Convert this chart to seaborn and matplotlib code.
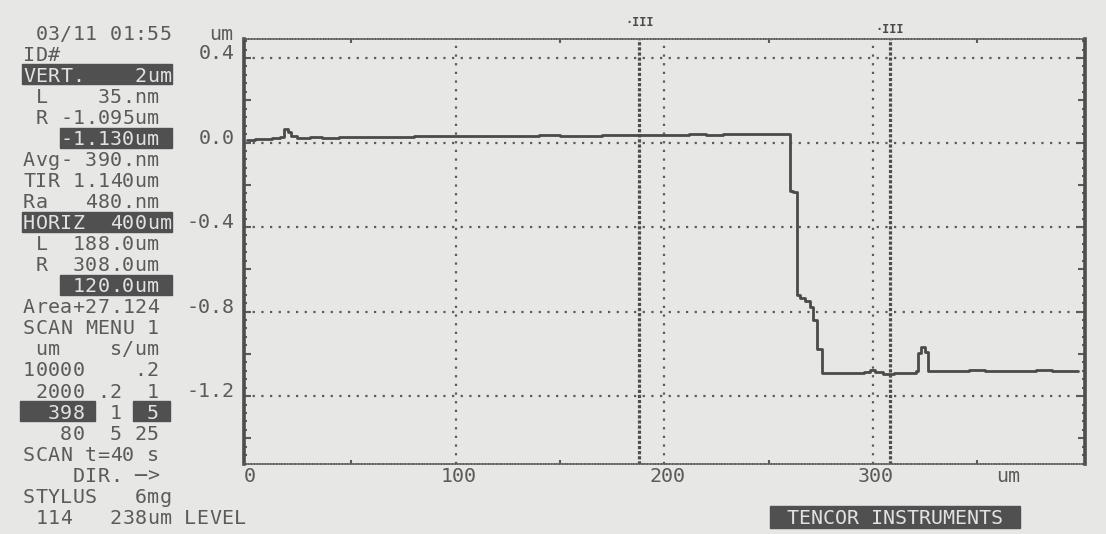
####################     importations     ####################
import numpy as np
import pandas as pd
import matplotlib
matplotlib.use('Agg')
import seaborn as sns
import matplotlib.pyplot as plt
from matplotlib.patches import Rectangle
from matplotlib.ticker import MultipleLocator, FixedLocator


####################        donnees         ####################

# profil mesure (um, um)
profile_x = [0, 4, 8, 12, 16, 17.5, 19.5, 21, 24, 30, 36, 44, 52, 60, 70, 80,
             90, 98, 110, 120, 130, 140, 150, 160, 170, 180, 188, 196, 204,
             212, 220, 228, 236, 244, 252, 260.3, 261.7, 263.7, 265.1, 267.5,
             269.9, 271.3, 273.2, 275.5, 282, 290, 296, 298.5, 301, 305, 310,
             316, 320.5, 321.5, 323.2, 324.8, 326.3, 330, 338, 346, 354, 362,
             370, 378, 386, 394, 398.5]
profile_y = [0.012, 0.015, 0.018, 0.022, 0.025, 0.063, 0.048, 0.030, 0.022,
             0.025, 0.023, 0.027, 0.027, 0.026, 0.028, 0.030, 0.030, 0.033,
             0.032, 0.031, 0.033, 0.034, 0.032, 0.033, 0.034, 0.036, 0.035,
             0.034, 0.036, 0.038, 0.037, 0.039, 0.040, 0.038, 0.040, -0.228,
             -0.235, -0.720, -0.735, -0.750, -0.780, -0.840, -0.975, -1.092,
             -1.093, -1.090, -1.088, -1.075, -1.085, -1.095, -1.092, -1.090,
             -1.080, -0.995, -0.968, -0.990, -1.080, -1.081, -1.083, -1.079,
             -1.082, -1.080, -1.083, -1.078, -1.081, -1.082, -1.082]

y_grid = [0.4, 0.0, -0.4, -0.8, -1.2]
x_grid = [100, 200, 300]
x_labels = [0, 100, 200, 300]
x_small_ticks = [50, 150, 250, 350]
cursors = [188, 308]

# panneau de gauche (une chaine par ligne, police a chasse fixe)
panel_lines = [
    " 03/11 01:55",
    "ID#",
    "VERT.    2um",
    " L    35.nm",
    " R -1.095um",
    "   -1.130um",
    "Avg- 390.nm",
    "TIR 1.140um",
    "Ra   480.nm",
    "HORIZ  400um",
    " L  188.0um",
    " R  308.0um",
    "    120.0um",
    "Area+27.124",
    "SCAN MENU 1",
    " um    s/um",
    "10000    .2",
    " 2000 .2  1",
    "  398  1  5",
    "   80  5 25",
    "SCAN t=40 s",
    "    DIR. \u2500>",
    "STYLUS   6mg",
    " 114   238um LEVEL",
]
# cases en video inverse : (ligne, x gauche px, x droite px)
inverse_boxes = [(2, 22, 172), (5, 60, 172), (9, 22, 172), (12, 60, 172),
                 (18, 20, 95), (18, 133, 170)]


####################        figure          ####################
W, H = 1106, 534
papier = '#e7e7e5'
encre = '#5b5b5b'
clair = '#e2e2e2'
fs = 14.4

sns.set_theme(style='white', rc={'axes.facecolor': papier,
                                 'figure.facecolor': papier,
                                 'savefig.facecolor': papier})
plt.rcParams['font.family'] = ['DejaVu Sans Mono', 'DejaVu Sans']


def px(x, y):
    # pixels (haut gauche) -> fraction de figure
    return x / W, 1 - y / H


fig = plt.figure(figsize=(W / 100, H / 100), dpi=100)
ax_l, ax_r, ax_t, ax_b = 244, 1085, 39, 464.3
ax = fig.add_axes([ax_l / W, 1 - ax_b / H, (ax_r - ax_l) / W, (ax_b - ax_t) / H])

# grille pointillee
for v in y_grid:
    ax.axhline(v, color=encre, lw=1.6, ls=(0, (1, 2.9)), zorder=1)
for v in x_grid:
    ax.axvline(v, color=encre, lw=1.6, ls=(0, (1, 2.9)), zorder=1)
for c in cursors:
    ax.axvline(c, color='#4e4e4e', lw=2.3, ls=(0, (1, 0.6)), zorder=1)

# courbe
df = pd.DataFrame({'x': profile_x, 'y': profile_y})
sns.lineplot(data=df, x='x', y='y', ax=ax, color='#4a4a4a', lw=2.0,
             drawstyle='steps-post', estimator=None, sort=False, zorder=3)

ax.set_xlim(-1.44, 401.7)
ax.set_ylim(-1.523, 0.490)
ax.set_xlabel('')
ax.set_ylabel('')

# bords
for s in ['left', 'right']:
    ax.spines[s].set_color('#4e4e4e')
    ax.spines[s].set_linewidth(2.6)
for s in ['top', 'bottom']:
    ax.spines[s].set_color(encre)
    ax.spines[s].set_linewidth(1.1)
    ax.spines[s].set_linestyle((0, (1, 0.8)))

ax.yaxis.set_major_locator(MultipleLocator(0.2))
ax.yaxis.set_minor_locator(MultipleLocator(0.04))
ax.tick_params(axis='y', which='both', direction='in', left=True, right=True,
               labelleft=False, color=encre, width=1.5)
ax.tick_params(axis='y', which='major', length=5)
ax.tick_params(axis='y', which='minor', length=2.5)
ax.xaxis.set_major_locator(FixedLocator(x_small_ticks))
ax.tick_params(axis='x', which='major', direction='in', top=True, bottom=True,
               labelbottom=False, length=3, width=1.5, color=encre)

# etiquettes des axes
for v in y_grid:
    ax.annotate(f"{v:.1f}", xy=(0, v), xycoords=('axes fraction', 'data'),
                xytext=(-6.5, -0.9), textcoords='offset points',
                ha='right', va='baseline', fontsize=fs, color=encre)
for v in x_labels:
    ax.annotate(f"{v}", xy=(v, 0), xycoords=('data', 'axes fraction'),
                xytext=(2, -13), textcoords='offset points',
                ha='center', va='baseline', fontsize=fs, color=encre)
ax.annotate("um", xy=(365, 0), xycoords=('data', 'axes fraction'),
            xytext=(0, -13), textcoords='offset points',
            ha='center', va='baseline', fontsize=fs, color=encre)
fig.text(*px(233, 40), "um", ha='right', va='baseline', fontsize=fs, color=encre)

# reperes des curseurs au-dessus du cadre
for c, dy in zip(cursors, [7.5, 2.5]):
    ax.annotate("\u00b7III", xy=(c, 1), xycoords=('data', 'axes fraction'),
                xytext=(0, dy), textcoords='offset points', ha='center',
                va='bottom', fontsize=8.5, fontweight='bold', color='#4a4a4a')

# panneau de texte
col0, colw = 23, 12.4
y0, dy_line = 32.3, 21.06
for ligne, x0, x1 in inverse_boxes:
    yc = y0 + dy_line * ligne
    bx, by = px(x0, yc + 10)
    fig.patches.append(Rectangle((bx, by), (x1 - x0) / W, 20 / H,
                                 transform=fig.transFigure, color='#505050',
                                 zorder=0))

for i, texte in enumerate(panel_lines):
    yc = y0 + dy_line * i
    for j, ch in enumerate(texte):
        if ch == ' ':
            continue
        xc = col0 + colw * j
        inv = any(l == i and x0 <= xc + 4 <= x1 for l, x0, x1 in inverse_boxes)
        fig.text(*px(xc, yc + 7.2), ch, ha='left', va='baseline', fontsize=fs,
                 color=clair if inv else encre)

# bandeau du fabricant
bx, by = px(770, 528)
fig.patches.append(Rectangle((bx, by), 250 / W, 22 / H, transform=fig.transFigure,
                             color='#505050', zorder=0))
fig.text(*px(895, 516.7 + 7.2), "TENCOR INSTRUMENTS", ha='center', va='baseline',
         fontsize=fs, color=clair)

plt.savefig('out.png', dpi=100)
plt.close()
